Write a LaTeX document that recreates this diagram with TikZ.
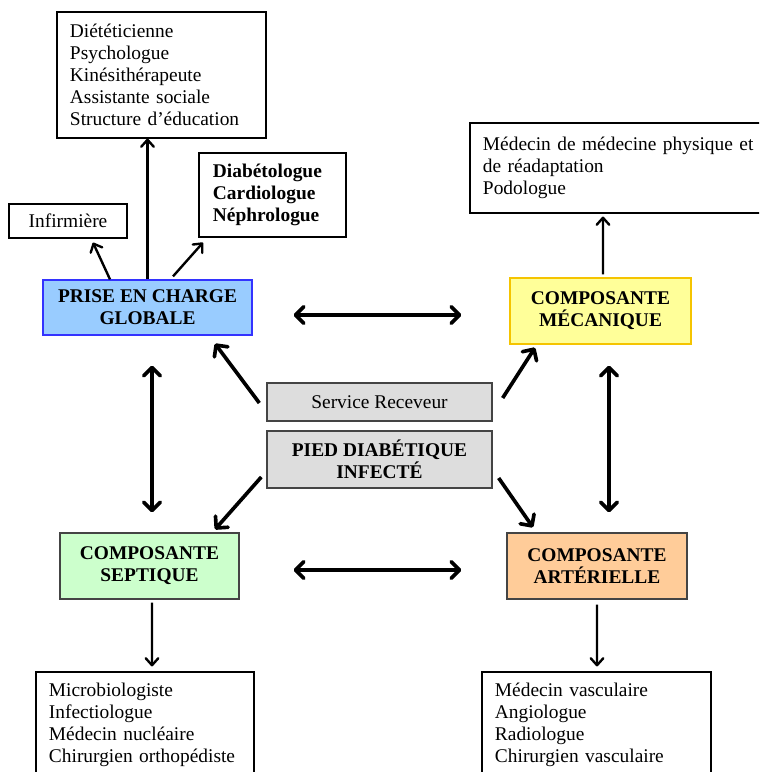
\documentclass[tikz,border=0pt]{standalone}
\usepackage{fontspec}
\setmainfont{Liberation Serif}
\usetikzlibrary{arrows.meta}

\definecolor{priseblue}{HTML}{99CCFF}
\definecolor{priseedge}{HTML}{3333FF}
\definecolor{mecayellow}{HTML}{FFFF99}
\definecolor{mecaedge}{HTML}{F5C400}
\definecolor{septgreen}{HTML}{CCFFCC}
\definecolor{artorange}{HTML}{FFCC99}
\definecolor{hubgray}{HTML}{DDDDDD}
\definecolor{edgegray}{HTML}{444444}

\newcommand{\diagfont}{\fontsize{13.8}{15.6}\selectfont}

\begin{document}
\begin{tikzpicture}[x=0.025cm, y=-0.025cm, font=\diagfont,
    listbox/.style={draw=black, line width=0.8pt, fill=white, inner xsep=0.325cm, align=left, font=\diagfont},
    compbox/.style={draw=edgegray, line width=0.9pt, align=center, font=\diagfont\bfseries, minimum height=1.65cm},
    hubbox/.style={draw=edgegray, line width=0.9pt, fill=hubgray, align=center, minimum width=5.625cm},
    arr/.style={-{Straight Barb[length=6pt, width=12pt, round]}, line width=2.6pt},
    dblarr/.style={{Straight Barb[length=6pt, width=12pt, round]}-{Straight Barb[length=6pt, width=12pt, round]}, line width=2.6pt},
    thinarr/.style={-{Straight Barb[length=5pt, width=9pt, round]}, line width=1.7pt}]

    % -------------------------------------------------------------
    % FRAME (reference crops the lower and right boxes)
    % -------------------------------------------------------------
    \clip (0,0) rectangle (759,772);
    \fill[white] (0,0) rectangle (759,772);

    % -------------------------------------------------------------
    % CENTRE: THE PATIENT
    % -------------------------------------------------------------
    \node[hubbox, minimum height=0.95cm] (srv) at (379.5,402) {Service Receveur};
    \node[hubbox, minimum height=1.425cm, font=\diagfont\bfseries] (pied) at (379.5,459.5) {PIED DIABÉTIQUE\\INFECTÉ};

    % -------------------------------------------------------------
    % THE FOUR COMPONENTS
    % -------------------------------------------------------------
    \node[compbox, fill=priseblue, draw=priseedge, minimum width=5.225cm, minimum height=1.375cm] (prise) at (147.5,307.5) {PRISE EN CHARGE\\GLOBALE};
    \node[compbox, fill=mecayellow, draw=mecaedge, minimum width=4.525cm] (meca) at (600.5,311) {COMPOSANTE\\MÉCANIQUE};
    \node[compbox, fill=septgreen, minimum width=4.475cm] (sept) at (149.5,566) {COMPOSANTE\\SEPTIQUE};
    \node[compbox, fill=artorange, minimum width=4.5cm] (art) at (597,566) {COMPOSANTE\\ARTÉRIELLE};

    % -------------------------------------------------------------
    % SPECIALISTS
    % -------------------------------------------------------------
    \node[listbox, text width=4.575cm, minimum height=3.15cm] (diet) at (161.5,75)
        {Diététicienne\\Psychologue\\Kinésithérapeute\\Assistante sociale\\Structure d’éducation};
    \node[listbox, text width=2.975cm, minimum height=2.1cm, inner xsep=0.35cm, font=\diagfont\bfseries] (diab) at (272.5,195)
        {Diabétologue\\Cardiologue\\Néphrologue};
    \node[listbox, align=center, minimum width=2.95cm, minimum height=0.85cm] (inf) at (68,221) {Infirmière};
    \node[listbox, text width=7.35cm, minimum height=2.25cm] (medphys) at (630,168)
        {Médecin de médecine physique et\\de réadaptation\\Podologue};
    \node[listbox, text width=4.8cm, minimum height=2.65cm] (micro) at (145,725)
        {Microbiologiste\\Infectiologue\\Médecin nucléaire\\Chirurgien orthopédiste};
    \node[listbox, text width=5.075cm, minimum height=2.65cm] (vasc) at (596.5,725)
        {Médecin vasculaire\\Angiologue\\Radiologue\\Chirurgien vasculaire};

    % -------------------------------------------------------------
    % CONNECTORS
    % -------------------------------------------------------------
    % from the patient to the components
    \draw[arr] ([shift={(-7,1)}]srv.west) -- ([shift={(67.5,8)}]prise.south);
    \draw[arr] ([shift={(10,-4)}]srv.east) -- ([shift={(-65.5,3)}]meca.south);
    \draw[arr] ([shift={(-5,17.5)}]pied.west) -- ([shift={(65.5,-3)}]sept.north);
    \draw[arr] ([shift={(6,18.5)}]pied.east) -- ([shift={(-64,-5)}]art.north);

    % between the components
    \draw[dblarr] ([shift={(41,7.5)}]prise.east) -- ([shift={(-48,4)}]meca.west);
    \draw[dblarr] ([shift={(54,4)}]sept.east) -- ([shift={(-45,4)}]art.west);
    \draw[dblarr] ([shift={(4.5,30)}]prise.south) -- ([shift={(2.5,-20)}]sept.north);
    \draw[dblarr] ([shift={(8.5,21)}]meca.south) -- ([shift={(12,-20)}]art.north);

    % from the components to the specialists
    \draw[thinarr] ([shift={(-37.5,0)}]prise.north) -- ([shift={(25,4)}]inf.south);
    \draw[thinarr] (prise.north) -- (prise.north |- diet.south);
    \draw[thinarr] ([shift={(25.5,-3)}]prise.north) -- ([shift={(-69.5,5)}]diab.south);
    \draw[thinarr] ([shift={(2.5,-3)}]meca.north) -- ([shift={(-27,3)}]medphys.south);
    \draw[thinarr] ([shift={(2.5,3)}]sept.south) -- ([shift={(7,-5)}]micro.north);
    \draw[thinarr] ([shift={(0,5)}]art.south) -- ([shift={(0.5,-5)}]vasc.north);

\end{tikzpicture}
\end{document}
